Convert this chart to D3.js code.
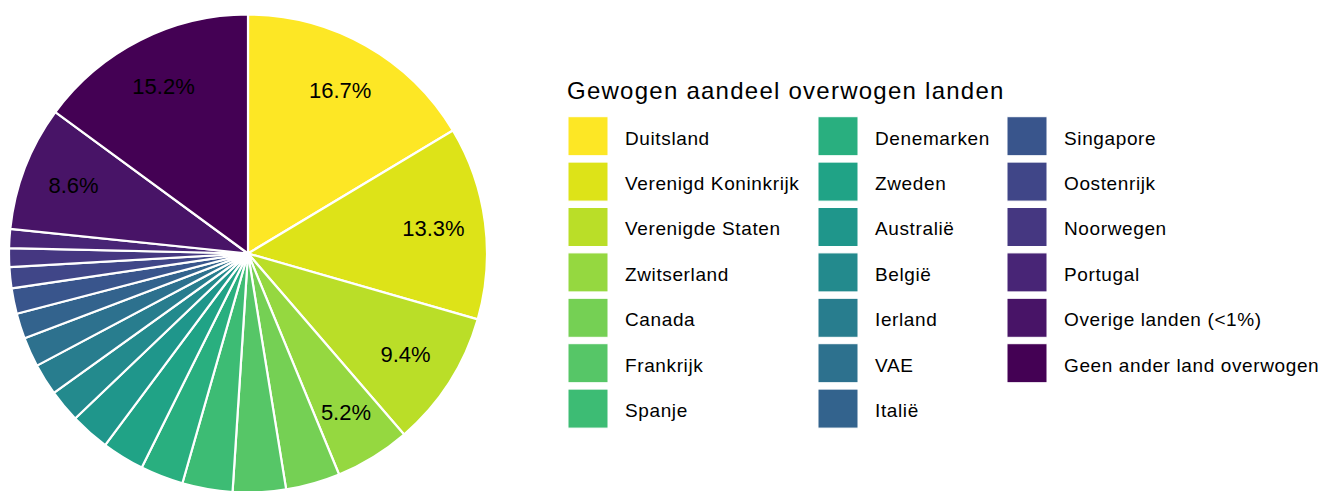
<!DOCTYPE html>
<html>
<head>
<meta charset="utf-8">
<script src="https://cdn.jsdelivr.net/npm/d3@7"></script>
<style>
  body { margin: 0; background: #fff; }
  text { font-family: "Liberation Sans", Arial, sans-serif; fill: #000; }
</style>
</head>
<body>
<svg id="chart"></svg>
<script>
// Landen in volgorde van de taart (met de klok mee vanaf 12 uur)
const countries = [
    "Duitsland", "Verenigd Koninkrijk", "Verenigde Staten", "Zwitserland",
    "Canada", "Frankrijk", "Spanje", "Denemarken", "Zweden", "Australië",
    "België", "Ierland", "VAE", "Italië", "Singapore", "Oostenrijk",
    "Noorwegen", "Portugal", "Overige landen (<1%)", "Geen ander land overwogen"
];

// Gewogen aandeel (%), kleine landen geschat uit de hoeken
const shares = [
    16.7, 13.3, 9.4, 5.2,
    3.74, 3.65, 3.46, 2.96, 2.92, 2.72,
    2.26, 2.18, 2.04, 1.75, 1.75, 1.45,
    1.3, 1.3, 8.6, 15.2
];

const legendTitle = "Gewogen aandeel overwogen landen";
const labelMin = 5;  // alleen labels voor grote stukken

const width = 1321, height = 491;
const cx = 248, cy = 253.5, radius = 239;

const svg = d3.select("#chart")
    .attr("width", width)
    .attr("height", height);

const data = countries.map((c, i) => ({ country: c, share: shares[i] }));

// viridis, omgekeerd: Duitsland geel, Geen paars
const color = d3.scaleOrdinal()
    .domain(countries)
    .range(countries.map((c, i) => d3.interpolateViridis(1 - i / (countries.length - 1))));

const pie = d3.pie().sort(null).value(d => d.share);
const arc = d3.arc().innerRadius(0).outerRadius(radius);
const labelArc = d3.arc().innerRadius(187).outerRadius(187);

const g = svg.append("g")
    .attr("transform", `translate(${cx},${cy})`);

const arcs = pie(data);

g.selectAll("path")
    .data(arcs)
    .join("path")
    .attr("d", arc)
    .attr("fill", d => color(d.data.country))
    .attr("stroke", "#fff")
    .attr("stroke-width", 2.2)
    .attr("stroke-linejoin", "round");

g.selectAll("text")
    .data(arcs.filter(d => d.data.share >= labelMin))
    .join("text")
    .attr("transform", d => `translate(${labelArc.centroid(d)})`)
    .attr("text-anchor", "middle")
    .attr("dy", "0.33em")
    .style("font-size", "22px")
    .text(d => d.data.share.toFixed(1) + "%");

// Legenda
const rows = 7;
const colX = [568, 818, 1007];
const keyTop = 116.7, rowStep = 45.4;
const keyW = 40, keyH = 39;

const legend = svg.append("g").attr("class", "legend");

legend.append("text")
    .attr("x", 567)
    .attr("y", 99)
    .style("font-size", "24px")
    .style("letter-spacing", "1.25px")
    .text(legendTitle);

const item = legend.selectAll("g.item")
    .data(countries)
    .join("g")
    .attr("class", "item")
    .attr("transform", (d, i) => `translate(${colX[Math.floor(i / rows)]},${keyTop + (i % rows) * rowStep})`);

item.append("rect")
    .attr("width", keyW)
    .attr("height", keyH)
    .attr("fill", d => color(d))
    .attr("stroke", "#fff")
    .attr("stroke-width", 1);

item.append("text")
    .attr("x", 57)
    .attr("y", keyH / 2 + 1.5)
    .attr("dy", "0.36em")
    .style("font-size", "19px")
    .style("letter-spacing", "0.62px")
    .text(d => d);
</script>
</body>
</html>
